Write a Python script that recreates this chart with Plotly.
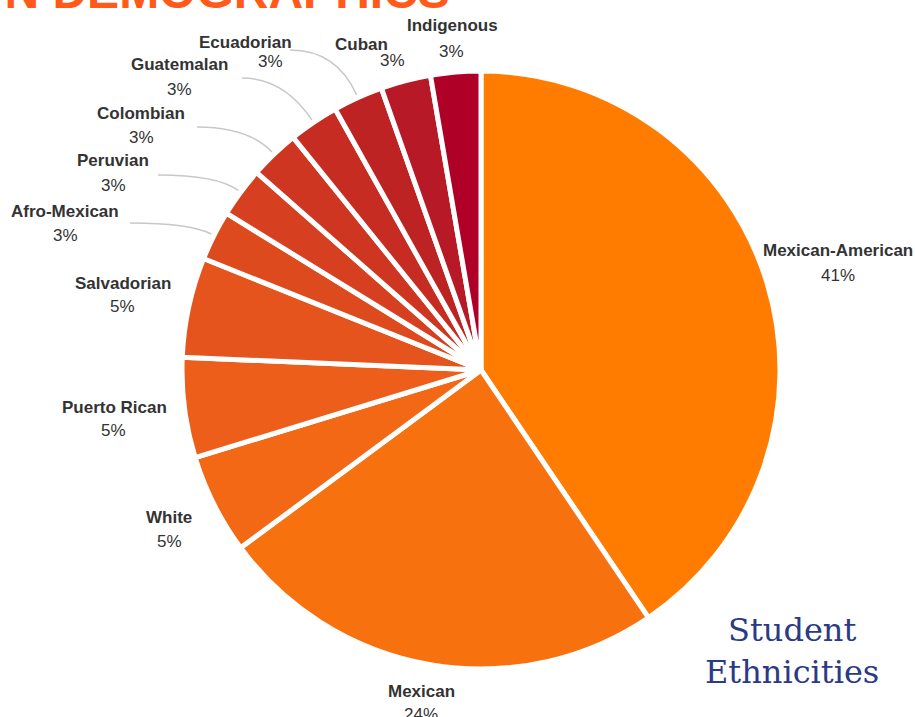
"""
Student ethnicities pie chart.
"""

import math
import plotly.graph_objects as go

# ---- data ----
ethnicities = [
    "Mexican-American", "Mexican", "White", "Puerto Rican", "Salvadorian",
    "Afro-Mexican", "Peruvian", "Colombian", "Guatemalan", "Ecuadorian",
    "Cuban", "Indigenous",
]
counts = [15, 9, 2, 2, 2, 1, 1, 1, 1, 1, 1, 1]

slice_colors = [
    "#FF7C00", "#F8710F", "#F26815", "#EC5E19", "#E4541C", "#DC4A1E",
    "#D63F20", "#CE3621", "#C62C22", "#BE2324", "#B71926", "#AF0028",
]

W, H = 915, 717
CX, CY, R = 481, 370, 299  # pie centre / radius in px

total = sum(counts)
pct_text = [f"{round(100 * c / total)}%" for c in counts]

# label placement in px (name centre, percent centre)
name_pos = [(838, 251), (421, 691), (169, 517), (114, 407), (123, 283), (65, 211),
            (113, 161), (141, 113), (179, 65), (245, 43), (361, 44), (452, 25)]
pct_pos = [(838, 275), (421, 714), (169, 541), (113, 431), (122, 307), (65, 235),
           (113, 185), (141, 137), (179, 89), (270, 61), (392, 60), (451, 51)]
# leader line start points (None = no leader)
leader_start = [None, None, None, None, None, (130, 223), (158, 175),
                (197, 127), (242, 78), (290, 50), None, None]


def px(x, y):
    return x / W, 1 - y / H


fig = go.Figure()

x0, y0 = px(CX - R, CY + R)
x1, y1 = px(CX + R, CY - R)
fig.add_trace(go.Pie(
    labels=ethnicities,
    values=counts,
    sort=False,
    direction="clockwise",
    rotation=0,
    textinfo="none",
    marker=dict(colors=slice_colors, line=dict(color="white", width=5)),
    domain=dict(x=[x0, x1], y=[y0, y1]),
    showlegend=False,
))

label_font = dict(family="Liberation Sans, Arial, sans-serif", size=17, color="#333333")

for name, pct, npos, ppos in zip(ethnicities, pct_text, name_pos, pct_pos):
    ax, ay = px(*npos)
    fig.add_annotation(text=f"<b>{name}</b>", x=ax, y=ay, xref="paper", yref="paper",
                       xanchor="center", yanchor="middle",
                       showarrow=False, font=label_font)
    ax, ay = px(*ppos)
    fig.add_annotation(text=pct, x=ax, y=ay, xref="paper", yref="paper",
                       xanchor="center", yanchor="middle",
                       showarrow=False, font=label_font)

# curved leader lines to the middle of each small slice
cum = 0
for c, start in zip(counts, leader_start):
    mid = (cum + c / 2) / total * 2 * math.pi
    cum += c
    if start is None:
        continue
    ex = CX + R * 1.01 * math.sin(mid)
    ey = CY - R * 1.01 * math.cos(mid)
    sx, sy = start
    dx, dy = ex - CX, ey - CY
    t = (sy - ey) / dy
    cx_, cy_ = ex + dx * t, sy
    p = [px(sx, sy), px(cx_, cy_), px(ex, ey)]
    path = f"M {p[0][0]},{p[0][1]} Q {p[1][0]},{p[1][1]} {p[2][0]},{p[2][1]}"
    fig.add_shape(type="path", path=path, xref="paper", yref="paper",
                  line=dict(color="#C8C8C8", width=1.5))

# clipped page heading at the top
hx, hy = px(452, 20)
fig.add_annotation(
    text="<b>POPULATION DEMOGRAPHICS</b>",
    x=hx, y=hy, xref="paper", yref="paper",
    xanchor="right", yanchor="bottom", showarrow=False,
    font=dict(family="Liberation Sans, Arial, sans-serif", size=48, color="#FF5A1A"),
)

# caption
tx, ty = px(792, 651)
fig.add_annotation(
    text="Student<br>Ethnicities",
    x=tx, y=ty, xref="paper", yref="paper", showarrow=False,
    xanchor="center", yanchor="middle",
    font=dict(family="DejaVu Serif, serif", size=32, color="#2B3A85"),
)

fig.update_layout(
    width=W, height=H,
    margin=dict(l=0, r=0, t=0, b=0),
    paper_bgcolor="white",
    plot_bgcolor="white",
)

fig.write_html(
    "out.html",
    config={"displayModeBar": False},
    post_script="document.body.style.margin='0';document.body.style.overflow='hidden';",
)
